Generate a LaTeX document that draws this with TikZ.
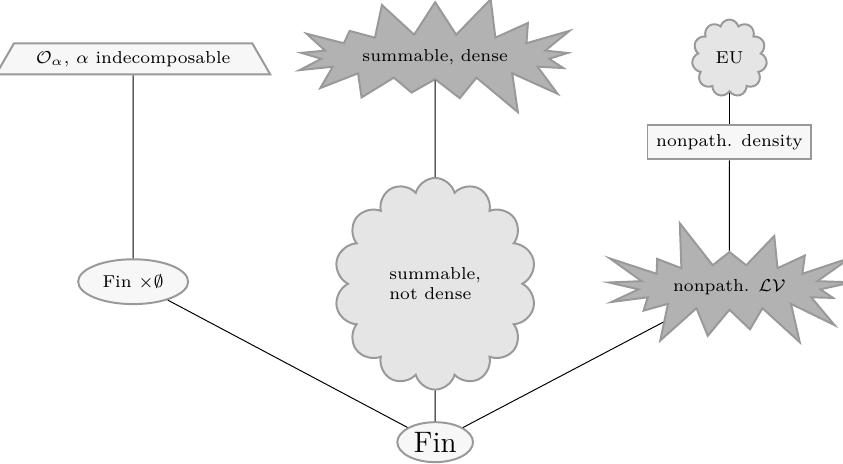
\documentclass[tikz,border=0pt]{standalone}
\usepackage{amsmath,amssymb}
\usepackage{tikz}
\usetikzlibrary{shapes.geometric,shapes.symbols,positioning}
\definecolor{light}{gray}{.97}
\definecolor{cloudy}{gray}{.9}
\definecolor{burst}{gray}{.7}
\definecolor{rim}{gray}{.6}

\begin{document}
\begin{tikzpicture}[% styles for all nodes, override case-by-case
			every node/.style={
				align=center,		% so that "\\" breaks the line
				font=\scriptsize,	% small text everywhere but Fin
				draw=rim,thick
			},
			every edge/.style={draw,thin,black}
		]
		\useasboundingbox (0,0) rectangle (12.03,6.62);
		\node[trapezium,fill=light,inner xsep=0pt,inner ysep=2pt,minimum height=0.44cm](O) at (1.90,5.78){$\mathcal{O}_\alpha$, $\alpha$ indecomposable};
		\node[ellipse,fill=light,inner sep=0pt,minimum width=1.57cm,minimum height=0.64cm](F0) at (1.90,2.60){Fin $\times\emptyset$};
		\node[starburst,random starburst,starburst point height=0.7cm,fill=burst,minimum width=4.08cm,minimum height=1.46cm](SD) at (6.21,5.81){summable, dense};
		\node[cloud,cloud puffs=14,fill=cloudy,align=left,minimum width=2.88cm,minimum height=3.02cm](SN) at (6.21,2.57){summable,\\not dense};
		\node[ellipse,fill=light,font=\large,inner sep=0pt,minimum width=1.08cm,minimum height=0.57cm](F) at (6.21,0.31){Fin};
		\node[cloud,cloud puffs=11,fill=cloudy,minimum width=1.07cm,minimum height=1.10cm](EU) at (10.41,5.79){EU};
		\node[rectangle,fill=light,minimum width=2.34cm,minimum height=0.485cm](ND)[below=0.45cm of EU]{nonpath. density};
		\node[starburst,random starburst,starburst point height=0.7cm,fill=burst,minimum width=3.30cm,minimum height=1.64cm](LV) at (10.41,2.52){nonpath. $\mathcal{LV}$};
		\path
		(O)edge (F0)
		(F0)edge (F)
		(SD)edge (SN)
		(SN)edge (F)
		(EU)edge (ND)
		(ND)edge (LV)
		(LV)edge (F)
		;
	\end{tikzpicture}
\end{document}
